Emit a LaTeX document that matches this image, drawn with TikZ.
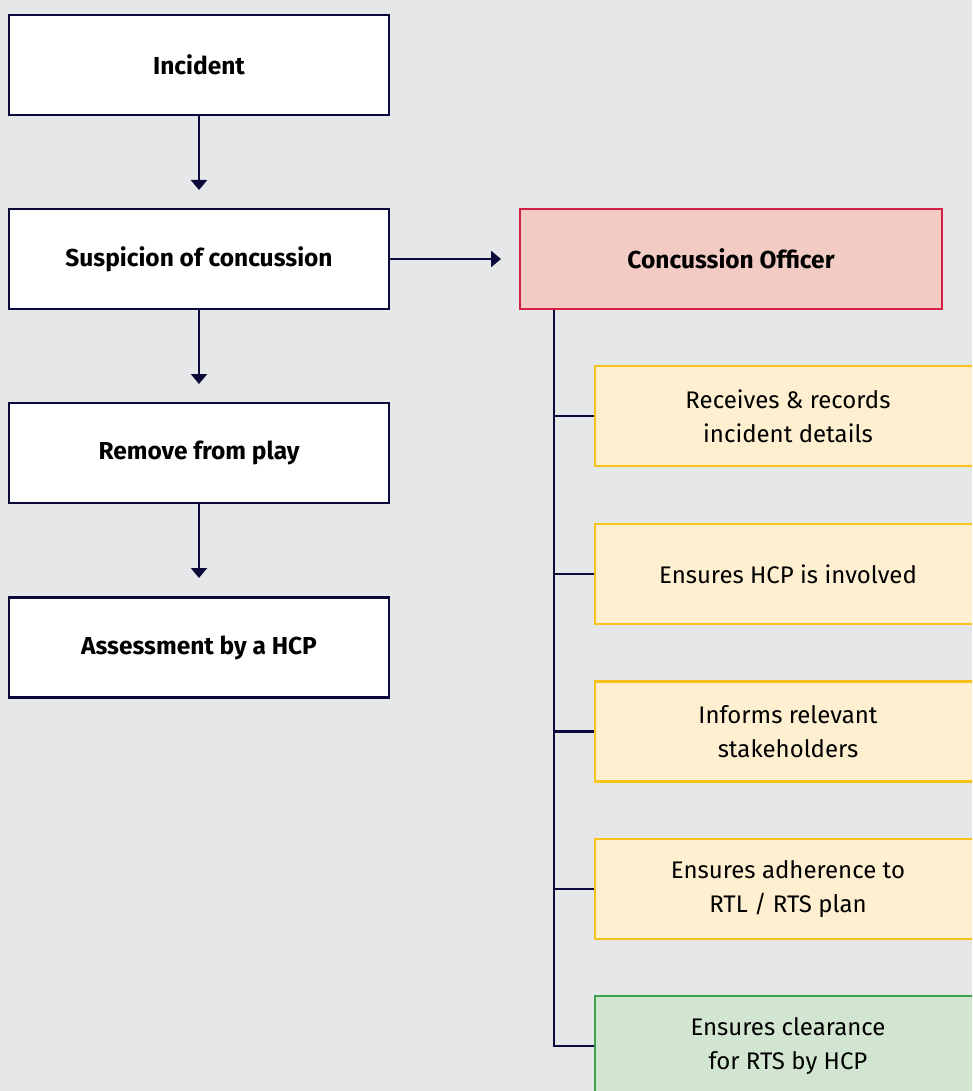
\documentclass[tikz,border=0pt]{standalone}
\usepackage{fontspec}
\setmainfont{Fira Sans}
\usetikzlibrary{arrows.meta}
\definecolor{bg}{HTML}{E6E7E9}
\definecolor{navy}{HTML}{0B0B3B}
\definecolor{pinkfill}{HTML}{F2CBC4}
\definecolor{pinkline}{HTML}{D41F44}
\definecolor{yelfill}{HTML}{FDEFCF}
\definecolor{yelline}{HTML}{F7C21A}
\definecolor{grnfill}{HTML}{D2E5D0}
\definecolor{grnline}{HTML}{3DA14A}
\tikzset{
  flowbox/.style={draw=navy,line width=2.8pt,fill=white,minimum width=380pt,minimum height=100pt,inner sep=0pt,font=\fontsize{24.5}{28}\selectfont\bfseries,align=center},
  cobox/.style={draw=pinkline,line width=2.8pt,fill=pinkfill,minimum width=422pt,minimum height=100pt,inner sep=0pt,font=\fontsize{24.5}{28}\selectfont\bfseries,align=center},
  taskbox/.style={draw=yelline,line width=2.8pt,fill=yelfill,minimum width=386pt,minimum height=100pt,inner sep=0pt,font=\fontsize{24}{34}\selectfont,align=center},
  clearbox/.style={taskbox,draw=grnline,fill=grnfill},
  link/.style={draw=navy,line width=2.6pt},
  arr/.style={link,-{Triangle[width=16pt,length=10pt]}}
}
\begin{document}
\begin{tikzpicture}[x=1pt,y=-1pt]
\useasboundingbox (0,0) rectangle (972,1091);
\clip (0,0) rectangle (972,1091);
\fill[bg] (0,0) rectangle (972,1091);
\node[flowbox] (inc) at (199,65) {Incident};
\node[flowbox] (sus) at (199,259) {Suspicion of concussion};
\node[flowbox] (rem) at (199,453) {Remove from play};
\node[flowbox] (ass) at (199,647.5) {Assessment by a HCP};
\node[cobox] (co) at (731,259) {Concussion Officer};
\node[taskbox] (t1) at (788,416) {Receives \& records\\incident details};
\node[taskbox] (t2) at (788,574) {Ensures HCP is involved};
\node[taskbox] (t3) at (788,731.5) {Informs relevant\\stakeholders};
\node[taskbox] (t4) at (788,889) {Ensures adherence to\\RTL / RTS plan};
\node[clearbox] (t5) at (788,1046) {Ensures clearance\\for RTS by HCP};
\coordinate (e1) at (199,190);
\coordinate (e2) at (199,384);
\coordinate (e3) at (199,578);
\coordinate (e4) at (501,259);
\coordinate (trunk) at (554,310);
\draw[arr] (inc.south) -- (e1);
\draw[arr] (sus.south) -- (e2);
\draw[arr] (rem.south) -- (e3);
\draw[arr] (sus.east) -- (e4);
\draw[link] (co.south -| trunk) -- (trunk |- t5.west) -- (t5.west);
\draw[link] (trunk |- t1.west) -- (t1.west);
\draw[link] (trunk |- t2.west) -- (t2.west);
\draw[link] (trunk |- t3.west) -- (t3.west);
\draw[link] (trunk |- t4.west) -- (t4.west);
\end{tikzpicture}
\end{document}
